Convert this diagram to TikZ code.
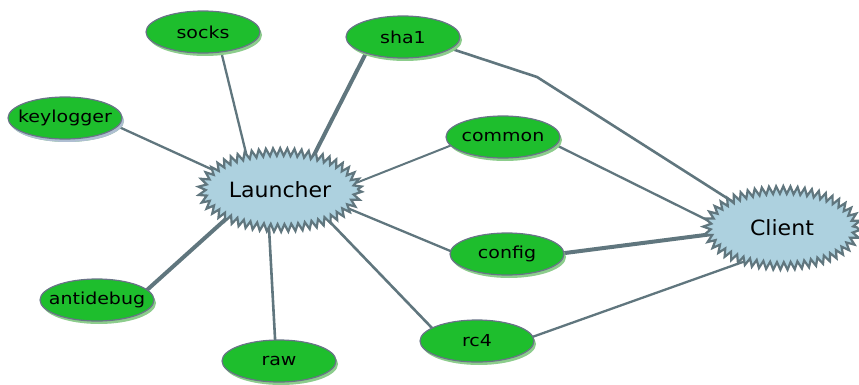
\documentclass[tikz,border=0pt]{standalone}
\usepackage{fontspec}
\setmainfont{DejaVu Sans}
\usepackage{graphicx}
\usetikzlibrary{shapes.geometric,shadows,decorations.pathmorphing}
\pgfdeclarelayer{bg}
\pgfsetlayers{bg,main}
\definecolor{edgec}{RGB}{96,118,126}
\definecolor{gfill}{RGB}{30,190,45}
\definecolor{gborder}{RGB}{105,115,135}
\definecolor{gshadow}{RGB}{140,205,140}
\definecolor{kshadow}{RGB}{175,190,210}
\definecolor{lblue}{RGB}{173,209,223}
\newcommand{\gtxt}[1]{\makebox[0pt]{\scalebox{1.15}[1]{\fontsize{16.5}{18}\selectfont #1}}}
\newcommand{\btxt}[1]{\makebox[0pt]{\scalebox{1.05}[1]{\fontsize{21}{23}\selectfont #1}}}
\tikzset{
  gnode/.style={ellipse, draw=gborder, line width=1.2pt, fill=gfill,
    minimum width=114pt, minimum height=42pt, inner sep=0pt,
    drop shadow={shadow xshift=2pt, shadow yshift=-3pt, fill=gshadow, opacity=1}},
  knode/.style={gnode, drop shadow={shadow xshift=2pt, shadow yshift=-3pt, fill=kshadow, opacity=1}},
  hub/.style={ellipse, inner sep=0pt},
  burst/.style={fill=lblue, draw=edgec, line width=2.2pt, line join=miter,
    decorate, decoration={zigzag, segment length=7pt, amplitude=3.8pt}},
  link/.style={draw=edgec, line width=2.3pt, shorten <=-5pt, shorten >=-5pt},
  thick link/.style={link, line width=4pt},
}
\begin{document}
\begin{tikzpicture}[x=1pt,y=-1pt]
\useasboundingbox (0,0) rectangle (859,385);
% hubs
\path[burst] (280,190) ellipse (78 and 38);
\node[hub, minimum width=160pt, minimum height=78pt] (L) at (280,190) {\btxt{Launcher}};
\path[burst] (782,228) ellipse (75 and 38);
\node[hub, minimum width=154pt, minimum height=78pt] (C) at (782,228) {\btxt{Client}};
% leaves
\node[gnode] (socks) at (203,32) {\gtxt{socks}};
\node[gnode] (sha1) at (403,37) {\gtxt{sha1}};
\node[knode] (keylogger) at (65,118) {\gtxt{keylogger}};
\node[gnode] (common) at (503,137) {\gtxt{common}};
\node[gnode] (config) at (507,254) {\gtxt{config}};
\node[gnode] (antidebug) at (97,300) {\gtxt{antidebug}};
\node[gnode] (raw) at (279,361) {\gtxt{raw}};
\node[gnode] (rc4) at (477,341) {\gtxt{rc4}};
% connector ends
\coordinate (socks-a) at (222,55);   \coordinate (socks-b) at (246,153);
\coordinate (sha1-a) at (365,55);    \coordinate (sha1-b) at (315,153);
\coordinate (key-a) at (119,127);    \coordinate (key-b) at (211,169);
\coordinate (common-a) at (447,147); \coordinate (common-b) at (361,181);
\coordinate (config-a) at (448,250); \coordinate (config-b) at (352,210);
\coordinate (rc4-a) at (432,328);    \coordinate (rc4-b) at (330,222);
\coordinate (raw-a) at (275,338);    \coordinate (raw-b) at (269,228);
\coordinate (anti-a) at (147,290);   \coordinate (anti-b) at (227,218);
\coordinate (csha1-a) at (455,50);   \coordinate (bend) at (537,77);   \coordinate (csha1-b) at (730,200);
\coordinate (ccommon-a) at (560,147); \coordinate (ccommon-b) at (703,218);
\coordinate (cconfig-a) at (565,253); \coordinate (cconfig-b) at (705,235);
\coordinate (crc4-a) at (535,336);   \coordinate (crc4-b) at (740,263);
% edges
\begin{pgfonlayer}{bg}
\draw[link] (socks-a) -- (socks-b);
\draw[thick link] (sha1-a) -- (sha1-b);
\draw[link] (key-a) -- (key-b);
\draw[link, line width=2pt] (common-a) -- (common-b);
\draw[link] (config-a) -- (config-b);
\draw[thick link] (anti-a) -- (anti-b);
\draw[link, line width=2.6pt] (raw-a) -- (raw-b);
\draw[link, line width=2.6pt] (rc4-a) -- (rc4-b);
\draw[link, line width=2.6pt] (csha1-a) -- (bend) -- (csha1-b);
\draw[link] (ccommon-a) -- (ccommon-b);
\draw[thick link] (cconfig-a) -- (cconfig-b);
\draw[link] (crc4-a) -- (crc4-b);
\end{pgfonlayer}
\end{tikzpicture}
\end{document}
